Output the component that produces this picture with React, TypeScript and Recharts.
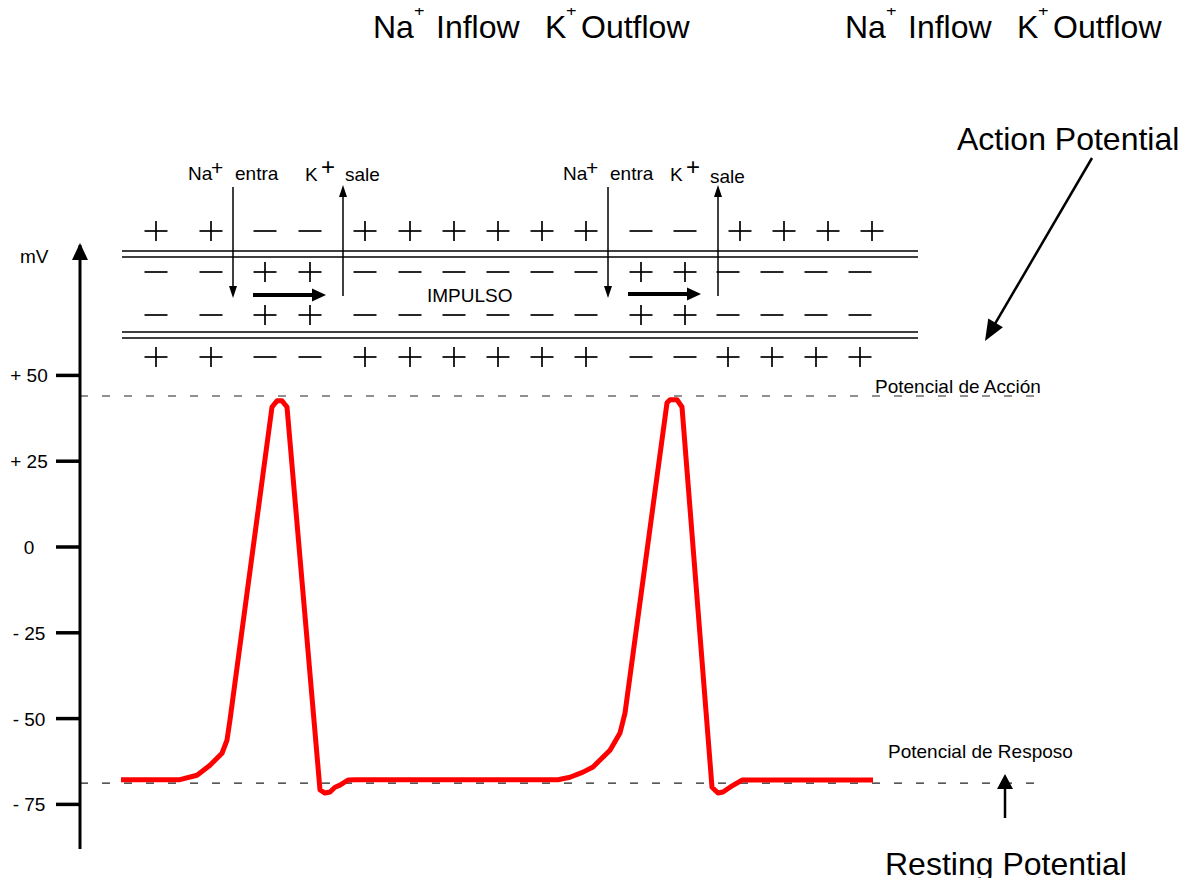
import React from 'react';
import { LineChart, Line, XAxis, YAxis, ReferenceLine } from 'recharts';

// membrane potential trace: time (arbitrary units from the mV axis) and voltage in mV
const TIME = [4.1, 10.0, 11.7, 13.0, 14.2, 14.7, 15.0, 19.2, 19.7, 20.2, 20.7, 24.0, 24.5, 25.0, 25.5, 26.0, 26.8, 27.5, 47.8, 49.0, 50.3, 51.3, 53.0, 54.0, 54.5, 58.7, 59.0, 59.7, 60.2, 63.2, 63.8, 64.3, 65.0, 66.2, 79.3];
const VOLTAGE = [-67.8, -67.8, -66.5, -63.6, -60.1, -56.3, -50.4, 40.8, 42.6, 42.6, 40.8, -70.8, -71.7, -71.4, -70.0, -69.4, -67.9, -67.8, -67.8, -67.1, -65.6, -64.1, -59.2, -54.2, -48.4, 42.0, 42.9, 42.9, 40.8, -70.0, -71.7, -71.4, -70.0, -67.9, -67.9];

const MV_TICKS = [50, 25, 0, -25, -50, -75];
const ACTION_LEVEL = 44;
const REST_LEVEL = -68.8;

// charges along the axon, outside/inside of each membrane
const CHARGE_OUT_TOP = ['+', '+', '-', '-', '+', '+', '+', '+', '+', '+', '-', '-', '+', '+', '+', '+'];
const CHARGE_IN_TOP = ['-', '-', '+', '+', '-', '-', '-', '-', '-', '-', '+', '+', '-', '-', '-', '-'];
const CHARGE_IN_BOTTOM = ['-', '-', '+', '+', '-', '-', '-', '-', '-', '-', '+', '+', '-', '-', '-', '-'];
const CHARGE_OUT_BOTTOM = ['+', '+', '-', '-', '+', '+', '+', '+', '+', '+', '-', '-', '+', '+', '+', '+'];

const data = TIME.map((t, i) => ({ t, v: VOLTAGE[i] }));

const FONT = '"Liberation Sans", Arial, sans-serif';
const SLOT_X = [156, 211, 265, 310, 365, 410, 454, 498, 542, 586, 641, 685, 740, 784, 828, 872];

const fmtMv = (v: number) => (v > 0 ? `+ ${v}` : v < 0 ? `- ${-v}` : '0');

const MvTick = (props: any) => {
  const { y, payload } = props;
  return (
    <text x={29} y={y} dy={7} textAnchor="middle" fontSize={19} fontFamily={FONT} fill="#000">
      {fmtMv(payload.value)}
    </text>
  );
};

const Charge = ({ x, y, sign }: { x: number; y: number; sign: string }) => (
  <g stroke="#000" strokeWidth={1.7}>
    <line x1={x - 11.5} y1={y} x2={x + 11.5} y2={y} />
    {sign === '+' && <line x1={x} y1={y - 10} x2={x} y2={y + 10} />}
  </g>
);

const ChargeRow = ({ signs, y, tailShift }: { signs: string[]; y: number; tailShift: number }) => (
  <g>
    {signs.map((s, i) => (
      <Charge key={i} x={SLOT_X[i] + (i >= 12 ? tailShift : 0)} y={y} sign={s} />
    ))}
  </g>
);

const Arrow = ({ x1, y1, x2, y2, w, head, headW }: any) => {
  const dx = x2 - x1;
  const dy = y2 - y1;
  const len = Math.sqrt(dx * dx + dy * dy);
  const ux = dx / len;
  const uy = dy / len;
  const bx = x2 - ux * head;
  const by = y2 - uy * head;
  const px = -uy * headW / 2;
  const py = ux * headW / 2;
  return (
    <g>
      <line x1={x1} y1={y1} x2={bx + ux} y2={by + uy} stroke="#000" strokeWidth={w} />
      <polygon points={`${x2},${y2} ${bx + px},${by + py} ${bx - px},${by - py}`} fill="#000" />
    </g>
  );
};

// "Na+ entra   K+ sale" above each opening of the membrane
const IonLabels = ({ ox, kx, saleX, saleY }: { ox: number; kx: number; saleX: number; saleY: number }) => (
  <text fontFamily={FONT} fill="#000" fontSize={19}>
    <tspan x={ox} y={180}>Na</tspan>
    <tspan x={ox + 23} y={175} fontSize={21}>+</tspan>
    <tspan x={ox + 47} y={180}>entra</tspan>
    <tspan x={kx} y={181}>K</tspan>
    <tspan x={kx + 16} y={175} fontSize={24}>+</tspan>
    <tspan x={saleX} y={saleY}>sale</tspan>
  </text>
);

const TopLabel = ({ ox }: { ox: number }) => (
  <text fontFamily={FONT} fill="#000" fontSize={32}>
    <tspan x={ox} y={38}>Na</tspan>
    <tspan x={ox + 41} y={17} fontSize={18}>+</tspan>
    <tspan x={ox + 63} y={38}>Inflow</tspan>
    <tspan x={ox + 172} y={38}>K</tspan>
    <tspan x={ox + 193} y={17} fontSize={18}>+</tspan>
    <tspan x={ox + 208} y={38}>Outflow</tspan>
  </text>
);

const Overlay = () => (
  <svg width={1189} height={886} style={{ position: 'absolute', left: 0, top: 0, pointerEvents: 'none' }}>
    <TopLabel ox={373} />
    <TopLabel ox={845} />

    <text x={957} y={150} fontSize={32} fontFamily={FONT} fill="#000">Action Potential</text>
    <Arrow x1={1092} y1={158} x2={985} y2={341} w={2.5} head={21} headW={17} />

    <text x={885} y={875} fontSize={32} fontFamily={FONT} fill="#000">Resting Potential</text>
    <Arrow x1={1005} y1={818} x2={1005} y2={774} w={2.5} head={15} headW={16} />

    <text x={875} y={393} fontSize={19} fontFamily={FONT} fill="#000">Potencial de Acción</text>
    <text x={888} y={758} fontSize={19} fontFamily={FONT} fill="#000">Potencial de Resposo</text>

    {/* axis arrow and unit */}
    <polygon points="80,243 72,260 88,260" fill="#000" />
    <text x={20} y={263} fontSize={19} fontFamily={FONT} fill="#000">mV</text>

    {/* membranes */}
    <g stroke="#000" strokeWidth={1.6}>
      <line x1={122} y1={251} x2={918} y2={251} />
      <line x1={122} y1={257} x2={918} y2={257} />
      <line x1={122} y1={332} x2={918} y2={332} />
      <line x1={122} y1={338} x2={918} y2={338} />
    </g>
    <ChargeRow signs={CHARGE_OUT_TOP} y={231} tailShift={0} />
    <ChargeRow signs={CHARGE_IN_TOP} y={272} tailShift={-12} />
    <ChargeRow signs={CHARGE_IN_BOTTOM} y={315} tailShift={-12} />
    <ChargeRow signs={CHARGE_OUT_BOTTOM} y={357} tailShift={-12} />

    {/* first segment */}
    <IonLabels ox={188} kx={305} saleX={345} saleY={181} />
    <Arrow x1={233} y1={187} x2={233} y2={298} w={1.5} head={12} headW={8} />
    <Arrow x1={343} y1={296} x2={343} y2={185} w={1.5} head={12} headW={8} />
    <Arrow x1={253} y1={295} x2={326} y2={295} w={4} head={14} headW={13} />

    <text x={427} y={302} fontSize={19} fontFamily={FONT} fill="#000">IMPULSO</text>

    {/* second segment */}
    <IonLabels ox={563} kx={670} saleX={710} saleY={183} />
    <Arrow x1={608} y1={187} x2={608} y2={298} w={1.5} head={12} headW={8} />
    <Arrow x1={718} y1={296} x2={718} y2={185} w={1.5} head={12} headW={8} />
    <Arrow x1={628} y1={294} x2={701} y2={294} w={4} head={14} headW={13} />
  </svg>
);

export default function App() {
  return (
    <div style={{ position: 'relative', width: 1189, height: 886, margin: -8, overflow: 'hidden', background: '#fff', fontFamily: FONT }}>
      <LineChart width={1189} height={886} data={data} margin={{ top: 245, right: 144, bottom: 37, left: 0 }}>
        <XAxis dataKey="t" type="number" domain={[0, 96.5]} hide allowDataOverflow />
        <YAxis
          type="number"
          domain={[-88, 88]}
          ticks={MV_TICKS}
          interval={0}
          width={80}
          tickSize={24}
          axisLine={{ stroke: '#000', strokeWidth: 3 }}
          tickLine={{ stroke: '#000', strokeWidth: 3.5 }}
          tick={<MvTick />}
          allowDataOverflow
        />
        <ReferenceLine
          segment={[{ x: 0, y: ACTION_LEVEL }, { x: 96.5, y: ACTION_LEVEL }]}
          stroke="#222"
          strokeWidth={1.2}
          strokeDasharray="8 14"
        />
        <ReferenceLine
          segment={[{ x: 0, y: REST_LEVEL }, { x: 95.5, y: REST_LEVEL }]}
          stroke="#222"
          strokeWidth={1.2}
          strokeDasharray="8 14"
        />
        <Line
          type="linear"
          dataKey="v"
          stroke="#ff0000"
          strokeWidth={5}
          strokeLinejoin="round"
          dot={false}
          isAnimationActive={false}
        />
      </LineChart>
      <Overlay />
    </div>
  );
}
